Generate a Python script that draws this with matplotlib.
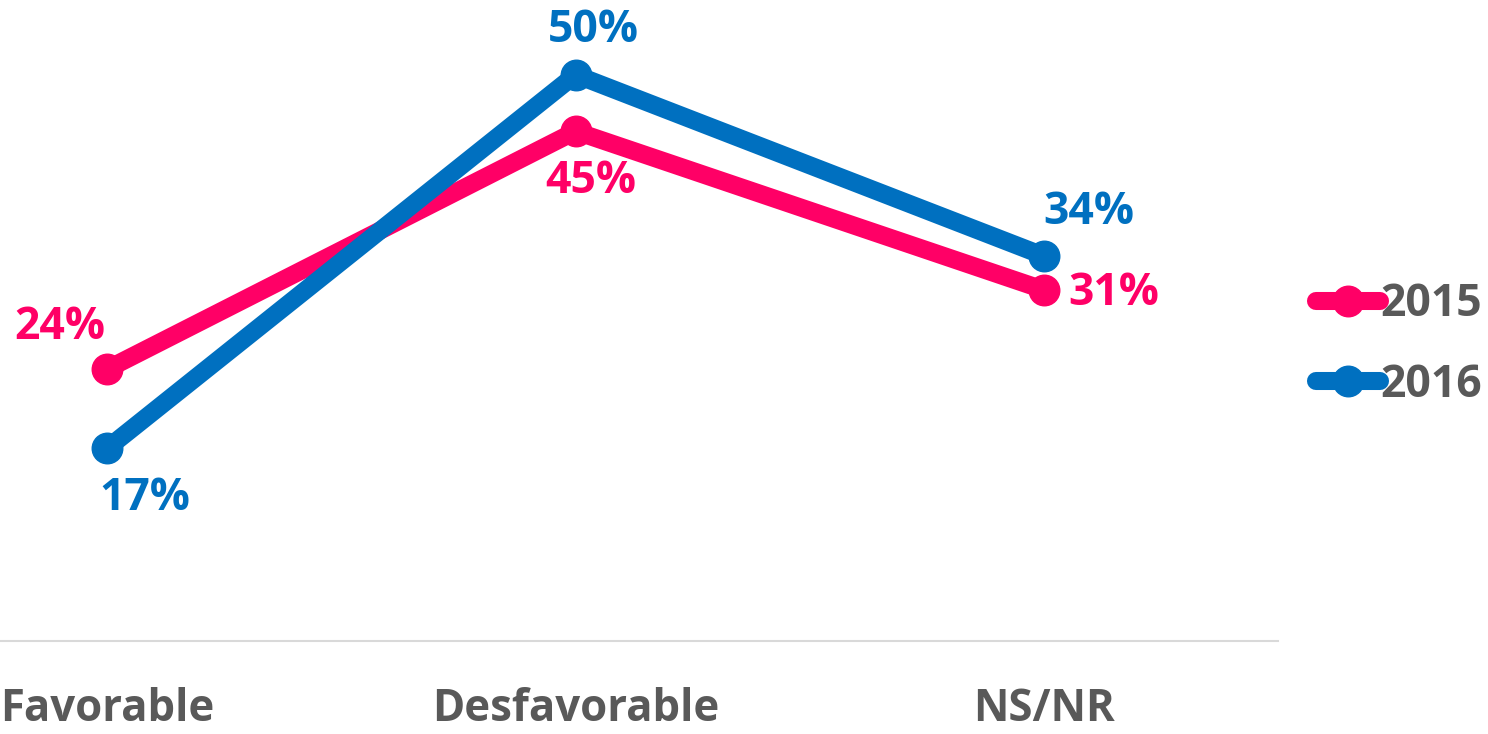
import matplotlib.pyplot as plt
import numpy as np

categories = ["Favorable", "Desfavorable", "NS/NR"]
years = ["2015", "2016"]
values_2015 = [24, 45, 31]
values_2016 = [17, 50, 34]
colors = {"2015": "#FF0066", "2016": "#0070C0"}

# label offsets in pixels (dx, dy) relative to each point
offsets_2015 = [(-47, 42), (15, -50), (70, -4)]
offsets_2016 = [(38, -50), (18, 44), (45, 43)]

plt.rcParams["font.family"] = ["Open Sans", "DejaVu Sans"]
plt.rcParams["font.weight"] = "bold"

W, H = 1488, 734
fig = plt.figure(figsize=(W / 100, H / 100), dpi=100)
ax = fig.add_axes([-127 / W, (H - 641) / H, 1405 / W, 623 / H])

x = np.arange(len(categories))
for yr, vals, offs in [("2015", values_2015, offsets_2015), ("2016", values_2016, offsets_2016)]:
    ax.plot(x, vals, color=colors[yr], lw=13, marker="o", ms=22,
            solid_capstyle="round", solid_joinstyle="round", label=yr, clip_on=False)
    for xi, v, (dx, dy) in zip(x, vals, offs):
        ax.annotate(f"{v}%", (xi, v), xytext=(dx * 0.72, dy * 0.72), textcoords="offset points",
                    ha="center", va="center", fontsize=32, fontweight="bold", color=colors[yr])

ax.set_xlim(-0.5, 2.5)
ax.set_ylim(0, 55)
ax.set_xticks(x)
ax.set_xticklabels(categories, fontsize=31.5, fontweight="bold", color="#595959")
ax.tick_params(axis="x", length=0, pad=33)
ax.set_yticks([])
for s in ["top", "left", "right"]:
    ax.spines[s].set_visible(False)
ax.spines["bottom"].set_color("#D9D9D9")
ax.spines["bottom"].set_linewidth(1.5)

leg = fig.legend(loc="center left", bbox_to_anchor=(1298 / W, 1 - 345 / H), frameon=False,
                 fontsize=32, handlelength=1.45, handletextpad=0.0, labelspacing=0.8,
                 labelcolor="#595959", borderaxespad=0)
for t in leg.get_texts():
    t.set_fontweight("bold")

fig.savefig("out.png", dpi=100)
